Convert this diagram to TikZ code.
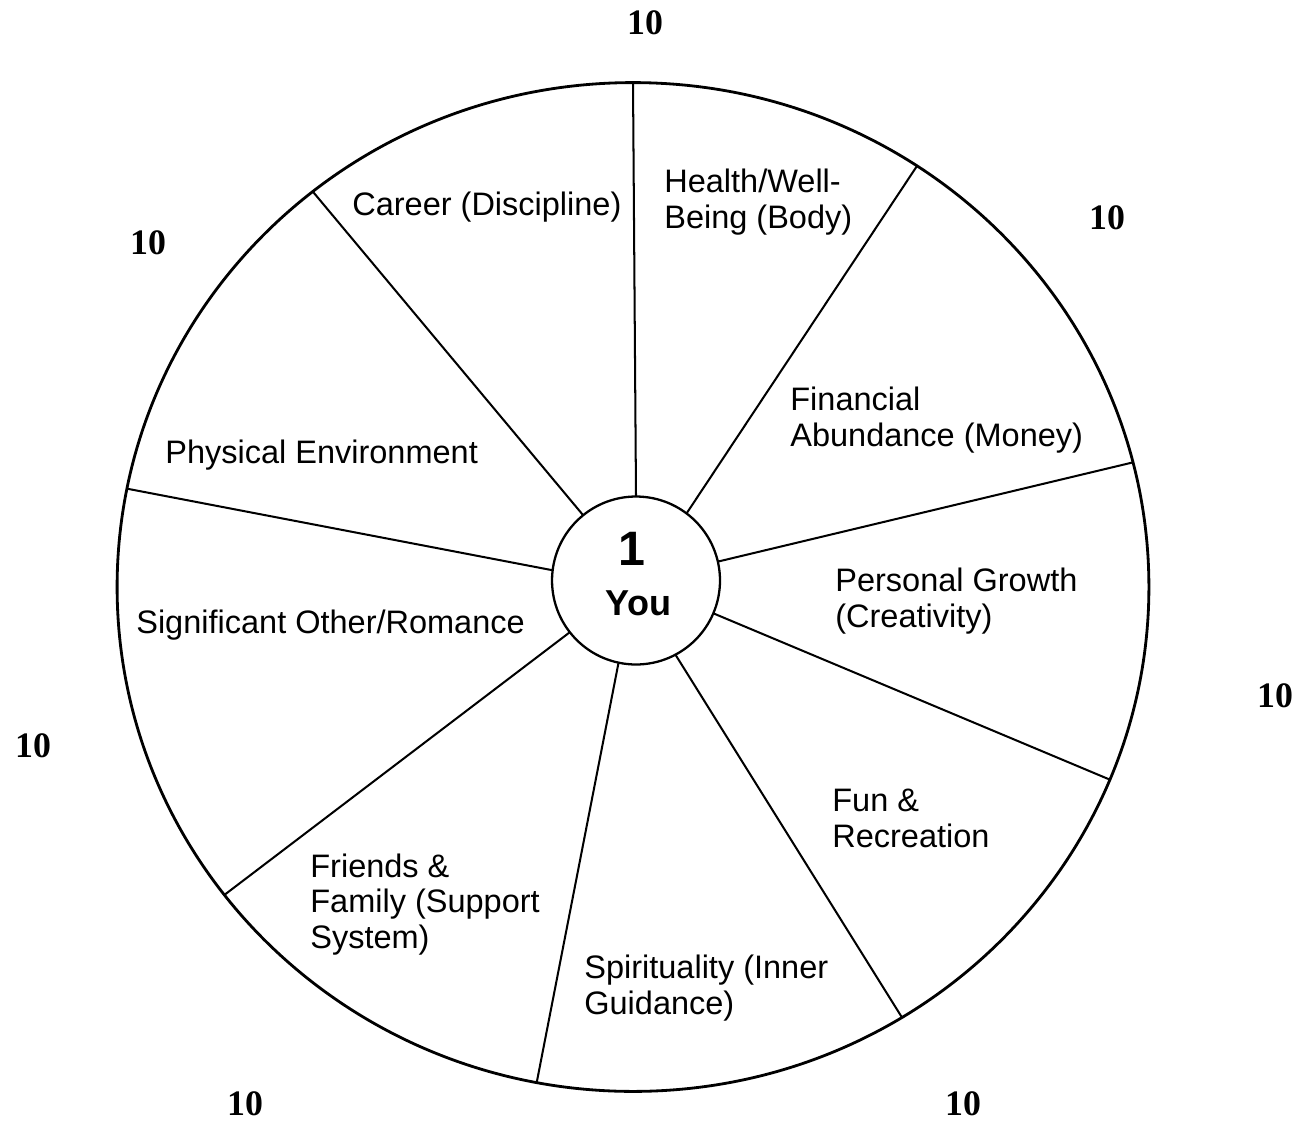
\documentclass[tikz,border=0pt]{standalone}
\usepackage{fontspec}
\setmainfont{Liberation Serif}
\setsansfont{Liberation Sans}
\usetikzlibrary{shapes.geometric, positioning}

\begin{document}
\begin{tikzpicture}[
  x=0.02cm, y=-0.02cm,
  area/.style={font=\sffamily\fontsize{18.5}{20.4}\selectfont,
    align=left, anchor=west, inner sep=0pt},
  score/.style={font=\bfseries\fontsize{20.4}{22}\selectfont, inner sep=0pt},
  spoke/.style={line width=1.15pt}
]
  \useasboundingbox (0,0) rectangle (1300,1122);

  % wheel and hub
  \node[draw, ellipse, line width=1.6pt, inner sep=0pt, outer sep=0pt,
    minimum width=20.64cm, minimum height=20.18cm] (wheel) at (633,587) {};
  \node[draw, circle, line width=1.3pt, inner sep=0pt, outer sep=0pt,
    minimum size=3.36cm, fill=white] (you) at (636,580.5) {};
  \node[font=\sffamily\bfseries\fontsize{27.5}{30}\selectfont, inner sep=0pt]
    (one) at (632,549) {1};
  \node[font=\sffamily\bfseries\fontsize{20.5}{22}\selectfont, inner sep=0pt]
    (youtxt) at (638.5,603) {You};

  % spokes
  \foreach \a/\b in {90/90, 53.6/56, 13.5/14, -23.9/-22.9, -62/-58.7,
      -102/-101.1, -142.7/-143.4, 173.4/169.5, 129.7/129.7}
    \draw[spoke] (you.\a) -- (wheel.\b);

  % areas of life
  \node[area] (career) at (352,207) {Career (Discipline)};
  \node[area] (health) at (664,202) {Health/Well-\\Being (Body)};
  \node[area] (money) at (790,420.5) {Financial\\Abundance (Money)};
  \node[area] (environment) at (165,455) {Physical Environment};
  \node[area] (growth) at (835,601.5) {Personal Growth\\(Creativity)};
  \node[area] (romance) at (136,625) {Significant Other/Romance};
  \node[area] (fun) at (832,818) {Fun \&\\Recreation};
  \node[area] (friends) at (310,904.5) {Friends \&\\Family (Support\\System)};
  \node[area] (spirit) at (584,988) {Spirituality (Inner\\Guidance)};

  % scores
  \node[score] (tenA) at (645,23) {10};
  \node[score] (tenB) at (1107,218) {10};
  \node[score] (tenC) at (148,243) {10};
  \node[score] (tenD) at (1275,696) {10};
  \node[score] (tenE) at (33,746) {10};
  \node[score] (tenF) at (245,1104) {10};
  \node[score] (tenG) at (963,1104) {10};
\end{tikzpicture}
\end{document}
